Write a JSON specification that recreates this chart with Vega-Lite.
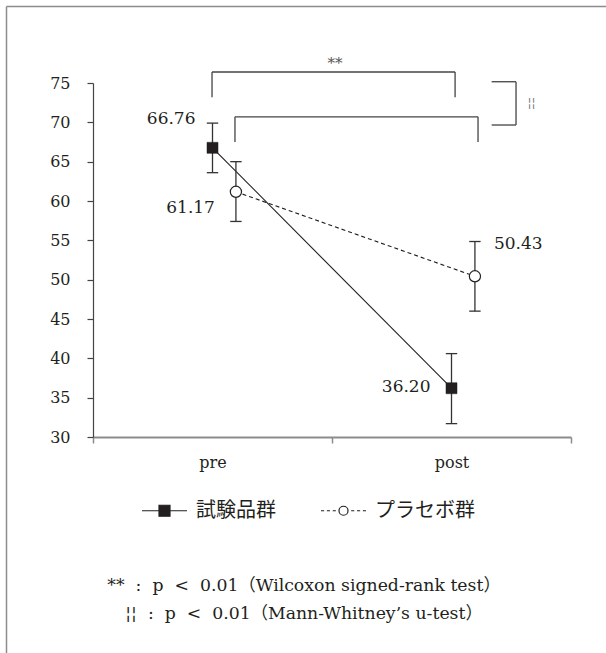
{
  "$schema": "https://vega.github.io/schema/vega-lite/v6.json",
  "width": 600,
  "height": 647,
  "autosize": {"type": "none"},
  "padding": {"left": 6, "top": 6, "right": 0, "bottom": 0},
  "background": "white",
  "config": {
    "view": {"stroke": null},
    "font": "DejaVu Serif"
  },
  "datasets": {
    "main": [
      {"time": "pre", "group": "試験品群", "mean": 66.76, "lo": 63.6, "hi": 69.9, "label": "66.76"},
      {"time": "post", "group": "試験品群", "mean": 36.20, "lo": 31.7, "hi": 40.6, "label": "36.20"},
      {"time": "pre", "group": "プラセボ群", "mean": 61.17, "lo": 57.4, "hi": 65.0, "label": "61.17"},
      {"time": "post", "group": "プラセボ群", "mean": 50.43, "lo": 46.0, "hi": 54.85, "label": "50.43"}
    ],
    "brackets": [
      {"x": 0.498, "x2": 0.498, "y": 73.2, "y2": 76.4},
      {"x": 0.498, "x2": 1.515, "y": 76.4, "y2": 76.4},
      {"x": 1.515, "x2": 1.515, "y": 76.4, "y2": 73.2},
      {"x": 0.594, "x2": 0.594, "y": 67.5, "y2": 70.7},
      {"x": 0.594, "x2": 1.611, "y": 70.7, "y2": 70.7},
      {"x": 1.611, "x2": 1.611, "y": 70.7, "y2": 67.5},
      {"x": 1.668, "x2": 1.770, "y": 75.16, "y2": 75.16},
      {"x": 1.770, "x2": 1.770, "y": 75.16, "y2": 69.66},
      {"x": 1.668, "x2": 1.770, "y": 69.66, "y2": 69.66}
    ],
    "sig": [
      {"x": 1.013, "y": 76.9, "text": "**", "kind": "wilcoxon"},
      {"x": 1.835, "y": 71.95, "text": "¦¦", "kind": "mann"}
    ]
  },
  "title": {
    "text": ["** \u00a0:\u00a0 p \u00a0<\u00a0 0.01（Wilcoxon signed-rank test）", "¦¦ \u00a0:\u00a0 p \u00a0<\u00a0 0.01（Mann-Whitney’s u-test）"],
    "orient": "bottom",
    "anchor": "middle",
    "frame": "group",
    "offset": -76,
    "dx": -2,
    "font": "DejaVu Serif, Noto Sans CJK JP",
    "fontSize": 17.3,
    "fontWeight": "normal",
    "color": "#231f20",
    "lineHeight": 28
  },
  "layer": [
    {
      "data": {"name": "main"},
      "layer": [
        {
          "transform": [{"filter": "datum.group === '試験品群'"}],
          "mark": {"type": "line", "color": "#231f20", "strokeWidth": 1.1},
          "encoding": {
            "x": {
              "field": "time", "type": "nominal", "bandPosition": 0.5,
              "scale": {"domain": ["pre", "post"], "range": [87, 565], "paddingInner": 0, "paddingOuter": 0},
              "axis": {
                "title": null, "tickBand": "extent", "offset": -216, "grid": false,
                "domainColor": "#8c8c8c", "domainWidth": 1.8, "tickColor": "#8c8c8c", "tickWidth": 1.5, "tickSize": 6,
                "labelFont": "DejaVu Serif", "labelFontSize": 16, "labelColor": "#231f20", "labelPadding": 11, "labelAngle": 0
              }
            },
            "y": {
              "field": "mean", "type": "quantitative",
              "scale": {"domain": [30, 75], "range": [431, 77], "nice": false, "zero": false},
              "axis": {
                "title": null, "values": [30, 35, 40, 45, 50, 55, 60, 65, 70, 75], "offset": -87, "grid": false,
                "domainColor": "#444444", "domainWidth": 1.2, "tickColor": "#444444", "tickWidth": 1.2, "tickSize": 6,
                "labelFont": "DejaVu Serif", "labelFontSize": 16, "labelColor": "#231f20", "labelPadding": 17
              }
            }
          }
        },
        {
          "transform": [{"filter": "datum.group === 'プラセボ群'"}],
          "mark": {"type": "line", "color": "#231f20", "strokeWidth": 1.1, "strokeDash": [4, 3]},
          "encoding": {
            "x": {"field": "time", "type": "nominal", "bandPosition": 0.598},
            "y": {"field": "mean", "type": "quantitative", "title": null}
          }
        },
        {
          "transform": [{"filter": "datum.group === '試験品群'"}],
          "mark": {"type": "rule", "color": "#333333", "strokeWidth": 1.3},
          "encoding": {
            "x": {"field": "time", "type": "nominal", "bandPosition": 0.5},
            "y": {"field": "lo", "type": "quantitative", "title": null},
            "y2": {"field": "hi"}
          }
        },
        {
          "transform": [{"filter": "datum.group === 'プラセボ群'"}],
          "mark": {"type": "rule", "color": "#333333", "strokeWidth": 1.3},
          "encoding": {
            "x": {"field": "time", "type": "nominal", "bandPosition": 0.598},
            "y": {"field": "lo", "type": "quantitative", "title": null},
            "y2": {"field": "hi"}
          }
        },
        {
          "transform": [{"filter": "datum.group === '試験品群'"}, {"fold": ["lo", "hi"], "as": ["end", "val"]}],
          "mark": {"type": "point", "shape": "M-1,0H1", "size": 130, "filled": false, "stroke": "#333333", "strokeWidth": 1.3, "opacity": 1},
          "encoding": {
            "x": {"field": "time", "type": "nominal", "bandPosition": 0.5},
            "y": {"field": "val", "type": "quantitative", "title": null}
          }
        },
        {
          "transform": [{"filter": "datum.group === 'プラセボ群'"}, {"fold": ["lo", "hi"], "as": ["end", "val"]}],
          "mark": {"type": "point", "shape": "M-1,0H1", "size": 130, "filled": false, "stroke": "#333333", "strokeWidth": 1.3, "opacity": 1},
          "encoding": {
            "x": {"field": "time", "type": "nominal", "bandPosition": 0.598},
            "y": {"field": "val", "type": "quantitative", "title": null}
          }
        },
        {
          "transform": [{"filter": "datum.group === '試験品群'"}],
          "mark": {"type": "point", "shape": "square", "size": 121, "filled": true, "fill": "#231f20", "stroke": "#231f20", "strokeWidth": 0.5, "opacity": 1},
          "encoding": {
            "x": {"field": "time", "type": "nominal", "bandPosition": 0.5},
            "y": {"field": "mean", "type": "quantitative", "title": null}
          }
        },
        {
          "transform": [{"filter": "datum.group === 'プラセボ群'"}],
          "mark": {"type": "point", "shape": "circle", "size": 125, "filled": true, "fill": "#ffffff", "stroke": "#231f20", "strokeWidth": 1.2, "opacity": 1},
          "encoding": {
            "x": {"field": "time", "type": "nominal", "bandPosition": 0.598},
            "y": {"field": "mean", "type": "quantitative", "title": null}
          }
        },
        {
          "transform": [{"filter": "datum.group === '試験品群' && datum.time === 'pre'"}],
          "mark": {"type": "text", "align": "right", "baseline": "alphabetic", "dx": -17, "dy": -24, "font": "DejaVu Serif", "fontSize": 17, "color": "#231f20"},
          "encoding": {
            "x": {"field": "time", "type": "nominal", "bandPosition": 0.5},
            "y": {"field": "mean", "type": "quantitative", "title": null},
            "text": {"field": "label"}
          }
        },
        {
          "transform": [{"filter": "datum.group === '試験品群' && datum.time === 'post'"}],
          "mark": {"type": "text", "align": "right", "baseline": "alphabetic", "dx": -21, "dy": 4, "font": "DejaVu Serif", "fontSize": 17, "color": "#231f20"},
          "encoding": {
            "x": {"field": "time", "type": "nominal", "bandPosition": 0.5},
            "y": {"field": "mean", "type": "quantitative", "title": null},
            "text": {"field": "label"}
          }
        },
        {
          "transform": [{"filter": "datum.group === 'プラセボ群' && datum.time === 'pre'"}],
          "mark": {"type": "text", "align": "right", "baseline": "alphabetic", "dx": -21, "dy": 21, "font": "DejaVu Serif", "fontSize": 17, "color": "#231f20"},
          "encoding": {
            "x": {"field": "time", "type": "nominal", "bandPosition": 0.598},
            "y": {"field": "mean", "type": "quantitative", "title": null},
            "text": {"field": "label"}
          }
        },
        {
          "transform": [{"filter": "datum.group === 'プラセボ群' && datum.time === 'post'"}],
          "mark": {"type": "text", "align": "left", "baseline": "alphabetic", "dx": 19, "dy": -27, "font": "DejaVu Serif", "fontSize": 17, "color": "#231f20"},
          "encoding": {
            "x": {"field": "time", "type": "nominal", "bandPosition": 0.598},
            "y": {"field": "mean", "type": "quantitative", "title": null},
            "text": {"field": "label"}
          }
        },
        {
          "transform": [{"filter": "false"}],
          "mark": {"type": "point", "filled": true, "stroke": "#231f20", "strokeWidth": 1.2},
          "encoding": {
            "shape": {
              "field": "group", "type": "nominal",
              "scale": {
                "domain": ["試験品群", "プラセボ群"],
                "range": [
                  "M-1,0H1M-0.244,-0.244H0.244V0.244H-0.244Z",
                  "M-1,0H-0.86M-0.74,0H-0.6M-0.48,0H-0.34M0.34,0H0.48M0.6,0H0.74M0.86,0H1M0.2,0A0.2,0.2,0,1,1,-0.2,0A0.2,0.2,0,1,1,0.2,0Z"
                ]
              },
              "legend": {
                "title": null, "orient": "none", "legendX": 135, "legendY": 481, "direction": "horizontal",
                "symbolSize": 2025, "symbolStrokeWidth": 1.2, "symbolStrokeColor": "#231f20", "symbolOpacity": 1,
                "labelFont": "Noto Sans CJK JP", "labelFontSize": 20, "labelColor": "#231f20", "labelOffset": 8,
                "columnPadding": 42, "padding": 0,
                "encode": {"symbols": {"update": {"stroke": {"value": "#231f20"}, "strokeWidth": {"value": 1.2}, "opacity": {"value": 1}}}}
              }
            },
            "fill": {
              "field": "group", "type": "nominal",
              "scale": {"domain": ["試験品群", "プラセボ群"], "range": ["#231f20", "#ffffff"]},
              "legend": {
                "title": null, "orient": "none", "legendX": 135, "legendY": 481, "direction": "horizontal",
                "symbolSize": 2025, "symbolStrokeWidth": 1.2, "symbolStrokeColor": "#231f20", "symbolOpacity": 1,
                "labelFont": "Noto Sans CJK JP", "labelFontSize": 20, "labelColor": "#231f20", "labelOffset": 8,
                "columnPadding": 42, "padding": 0,
                "encode": {"symbols": {"update": {"stroke": {"value": "#231f20"}, "strokeWidth": {"value": 1.2}, "opacity": {"value": 1}}}}
              }
            }
          }
        }
      ]
    },
    {
      "layer": [
        {
          "data": {"name": "brackets"},
          "mark": {"type": "rule", "color": "#444444", "strokeWidth": 1.3},
          "encoding": {
            "x": {
              "field": "x", "type": "quantitative",
              "scale": {"domain": [-0.36402, 2.14644], "nice": false, "zero": false},
              "axis": {"orient": "top", "title": null, "domain": true, "domainColor": "#8c8c8c", "domainWidth": 1.5, "ticks": false, "labels": false, "grid": false}
            },
            "x2": {"field": "x2"},
            "y": {
              "field": "y", "type": "quantitative",
              "scale": {"domain": [2.542, 84.788], "nice": false, "zero": false},
              "axis": {"orient": "left", "title": null, "domain": true, "domainColor": "#8c8c8c", "domainWidth": 1.5, "ticks": false, "labels": false, "grid": false}
            },
            "y2": {"field": "y2"}
          }
        },
        {
          "data": {"name": "sig"},
          "transform": [{"filter": "datum.kind === 'wilcoxon'"}],
          "mark": {"type": "text", "align": "center", "baseline": "alphabetic", "font": "DejaVu Serif", "fontSize": 15, "color": "#555555"},
          "encoding": {
            "x": {"field": "x", "type": "quantitative"},
            "y": {"field": "y", "type": "quantitative", "title": null},
            "text": {"field": "text"}
          }
        },
        {
          "data": {"name": "sig"},
          "transform": [{"filter": "datum.kind === 'mann'"}],
          "mark": {"type": "text", "align": "center", "baseline": "alphabetic", "font": "DejaVu Serif", "fontSize": 12, "color": "#777777"},
          "encoding": {
            "x": {"field": "x", "type": "quantitative"},
            "y": {"field": "y", "type": "quantitative", "title": null},
            "text": {"field": "text"}
          }
        }
      ]
    }
  ],
  "resolve": {
    "scale": {"x": "independent", "y": "independent"},
    "axis": {"x": "independent", "y": "independent"}
  }
}
